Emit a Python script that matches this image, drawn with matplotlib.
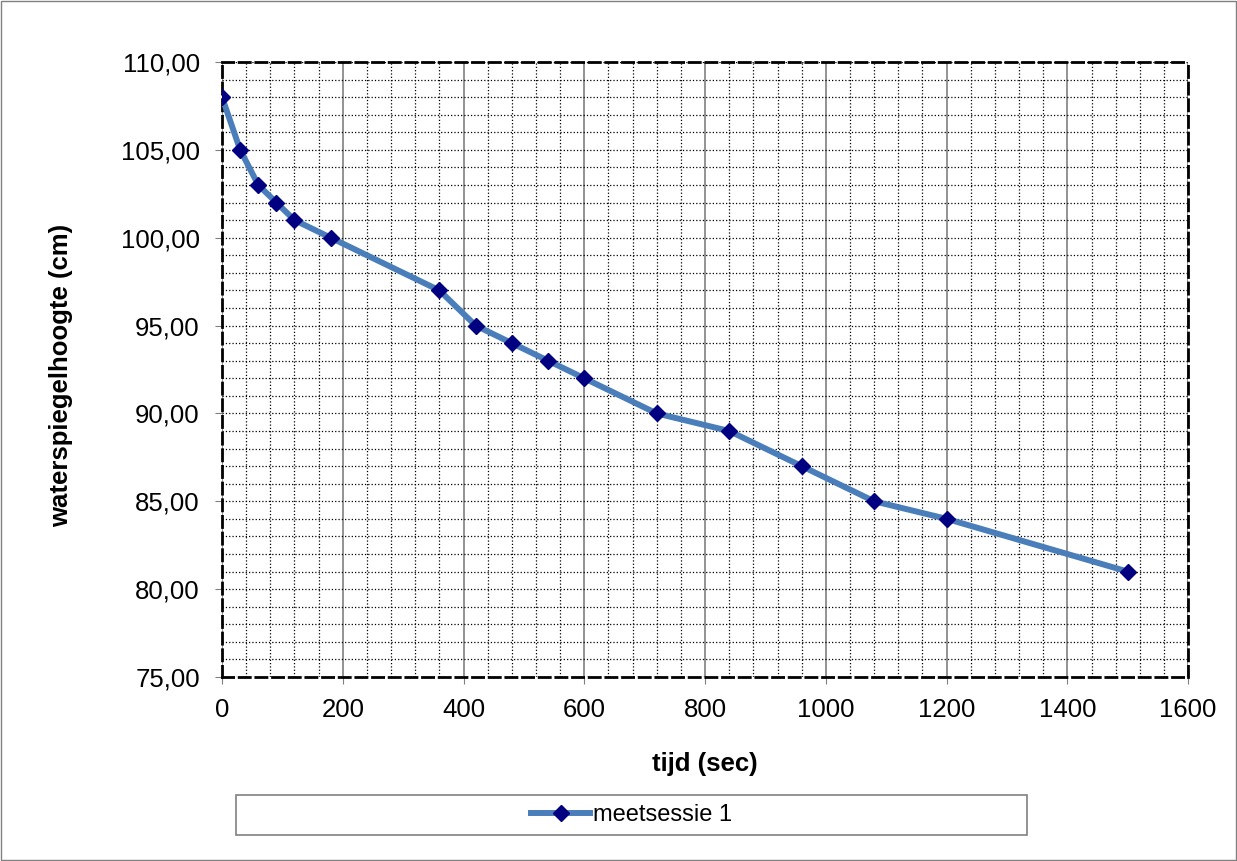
import matplotlib.pyplot as plt
from matplotlib.ticker import MultipleLocator, FuncFormatter
from matplotlib.patches import Rectangle

plt.rcParams['font.family'] = ['Liberation Sans', 'DejaVu Sans']

# data
tijd = [0, 30, 60, 90, 120, 180, 360, 420, 480, 540, 600, 720, 840, 960, 1080, 1200, 1500]
hoogte = [108, 105, 103, 102, 101, 100, 97, 95, 94, 93, 92, 90, 89, 87, 85, 84, 81]
reeks = 'meetsessie 1'

fig = plt.figure(figsize=(12.37, 8.61), dpi=100)
ax = fig.add_axes([0.1795, 0.2137, 0.781, 0.7143])

ax.plot(tijd, hoogte, color='#4a7ebb', linewidth=4.3, marker='D', markersize=8.5,
        markerfacecolor='#000080', markeredgecolor='#000080', label=reeks, zorder=3)

ax.set_xlim(0, 1600)
ax.set_ylim(75, 110)
ax.xaxis.set_major_locator(MultipleLocator(200))
ax.xaxis.set_minor_locator(MultipleLocator(40))
ax.yaxis.set_major_locator(MultipleLocator(5))
ax.yaxis.set_minor_locator(MultipleLocator(1))
ax.yaxis.set_major_formatter(FuncFormatter(lambda v, p: f'{v:.2f}'.replace('.', ',')))

# grid
ax.grid(True, which='major', axis='x', color='#808080', linestyle='-', linewidth=1.2)
ax.grid(True, which='minor', axis='x', color='black', linestyle=':', linewidth=0.9)
ax.grid(True, which='both', axis='y', color='black', linestyle=':', linewidth=0.9)
ax.set_axisbelow(True)

for s in ax.spines.values():
    s.set_linestyle((0, (4, 2)))
    s.set_linewidth(2)
    s.set_color('black')

ax.tick_params(which='major', direction='out', length=5, color='#808080', labelsize=18.5)
ax.tick_params(axis='y', pad=11)
ax.tick_params(axis='x', pad=10)
ax.tick_params(which='minor', length=0)

ax.set_xlabel('tijd (sec)', fontsize=18.5, fontweight='bold')
ax.set_ylabel('waterspiegelhoogte (cm)', fontsize=18.5, fontweight='bold')
ax.xaxis.set_label_coords(0.5, -0.122)
ax.yaxis.set_label_coords(-0.154, 0.49)

# legend box
fig.patches.append(Rectangle((236 / 1237, 1 - 835 / 861), (1027 - 236) / 1237, 40 / 861,
                             transform=fig.transFigure, fill=False,
                             edgecolor='#808080', linewidth=1.2))
fig.legend(loc='center', bbox_to_anchor=(0.5105, 0.0534), fontsize=17, frameon=False,
           handlelength=2.5, handletextpad=0.1, borderaxespad=0)

fig.patches.append(Rectangle((0.001, 0.001), 0.998, 0.998, transform=fig.transFigure,
                             fill=False, edgecolor='#808080', linewidth=1))

fig.savefig('out.png', dpi=100)
